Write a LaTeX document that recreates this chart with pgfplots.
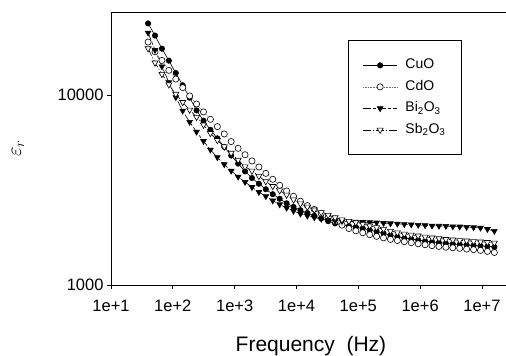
\documentclass[border=0pt]{standalone}
\usepackage{pgfplots}
\pgfplotsset{compat=1.18}
\usepackage{pgfplotstable}
\usepackage{fontspec}
\setmainfont{Liberation Sans}

\pgfplotstableread{
f cuo cdo bi sb
39.81 23820 19010 21280 17580
51.52 20560 16900 17260 14790
66.68 17540 15210 14130 12880
86.30 15170 13490 11670 11350
111.7 13060 12130 9730 10120
144.5 11250 10940 8260 9160
187.1 9680 9890 7210 8356
242.1 8300 8970 6400 7656
313.3 7330 8150 5720 6966
405.5 6560 7450 5150 6295
524.8 5915 6820 4700 5781
679.2 5333 6240 4315 5346
879.0 4800 5690 3990 4955
1138 4355 5240 3715 4550
1472 3963 4850 3483 4198
1905 3656 4500 3273 3990
2466 3412 4180 3083 3741
3192 3192 3870 2930 3508
4130 3006 3600 2780 3311
5346 2844 3350 2655 3141
6918 2692 3126 2547 2979
8954 2576 2931 2449 2812
11588 2477 2761 2371 2679
14997 2393 2618 2312 2576
19409 2312 2500 2265 2489
25119 2239 2382 2228 2410
32509 2168 2270 2198 2333
42073 2109 2163 2178 2265
54450 2070 2065 2168 2208
70469 2042 1982 2158 2168
91201 2018 1928 2148 2133
118032 1986 1884 2143 2094
152757 1950 1841 2138 2051
197697 1910 1803 2128 2009
255859 1871 1770 2118 1968
331131 1828 1738 2109 1923
428549 1795 1714 2099 1888
554626 1766 1690 2089 1858
717794 1746 1671 2080 1837
928966 1726 1648 2070 1816
1202264 1702 1629 2061 1791
1555966 1687 1611 2051 1774
2013724 1671 1596 2046 1758
2606153 1656 1581 2042 1742
3372873 1644 1570 2032 1730
4365158 1633 1560 2028 1718
5649370 1626 1545 2018 1710
7311391 1614 1535 2009 1698
9462371 1607 1521 2000 1690
12246162 1596 1503 1968 1679
15848932 1585 1483 1923 1667
}\datatable

\begin{document}
\begin{tikzpicture}
\useasboundingbox (-111pt,-71pt) rectangle (395pt,285pt);
\begin{axis}[
  at={(0pt,0pt)}, anchor=south west,
  scale only axis, width=419pt, height=273pt,
  xmode=log, ymode=log,
  xmin=10, xmax=5.98e7, ymin=1000, ymax=27360,
  axis line style={line width=0.8pt},
  xtick={10,100,1000,10000,100000,1000000,10000000},
  xticklabels={1e+1,1e+2,1e+3,1e+4,1e+5,1e+6,1e+7},
  ytick={1000,10000},
  yticklabels={1000,10000},
  xminorticks=false, yminorticks=false,
  tick align=outside, major tick length=4pt,
  tick style={line width=0.8pt, black},
  xtick pos=bottom, ytick pos=left,
  tick label style={font=\fontsize{16.5}{19}\selectfont},
  xticklabel style={yshift=-7.5pt},
  xlabel={Frequency~~(Hz)},
  xlabel style={font=\fontsize{21}{24}\selectfont, at={(axis description cs:0.4773,0)}, anchor=base, yshift=-66.5pt},
  ylabel={$\varepsilon_r$},
  ylabel style={font=\fontsize{21}{24}\selectfont, at={(axis description cs:-0.2220,0.5)}, anchor=center},
  legend image code/.code={\draw[mark repeat=2,mark phase=2,#1] plot coordinates {(0pt,0pt) (17pt,0pt) (34pt,0pt)};},
  legend style={at={(0.5664,0.897)}, anchor=north west, draw=black, line width=1pt,
    font=\fontsize{14}{16}\selectfont, inner xsep=14pt, inner ysep=14pt,
    nodes={inner ysep=3.25pt, text height=11pt, text depth=4pt}, row sep=0pt, column sep=6pt},
  legend cell align=left,
]
\addplot[black, line width=0.6pt, mark=*, mark size=2.7pt, mark options={solid, fill=black}] table[x=f, y=cuo] {\datatable};
\addlegendentry{CuO}
\addplot[black!60, line width=0.6pt, densely dotted, mark=*, mark size=3.1pt, mark options={solid, draw=black, fill=white}] table[x=f, y=cdo] {\datatable};
\addlegendentry{CdO}
\addplot[black, line width=0.6pt, dash pattern=on 8pt off 2pt on 3pt off 2pt, mark=triangle*, mark size=3.3pt, mark options={solid, rotate=180, fill=black}] table[x=f, y=bi] {\datatable};
\addlegendentry{Bi\textsubscript{2}O\textsubscript{3}}
\addplot[black, line width=0.6pt, dash pattern=on 8pt off 2pt on 1pt off 2pt, mark=triangle*, mark size=3.5pt, mark options={solid, rotate=180, fill=white}] table[x=f, y=sb] {\datatable};
\addlegendentry{Sb\textsubscript{2}O\textsubscript{3}}
\end{axis}
\end{tikzpicture}
\end{document}
